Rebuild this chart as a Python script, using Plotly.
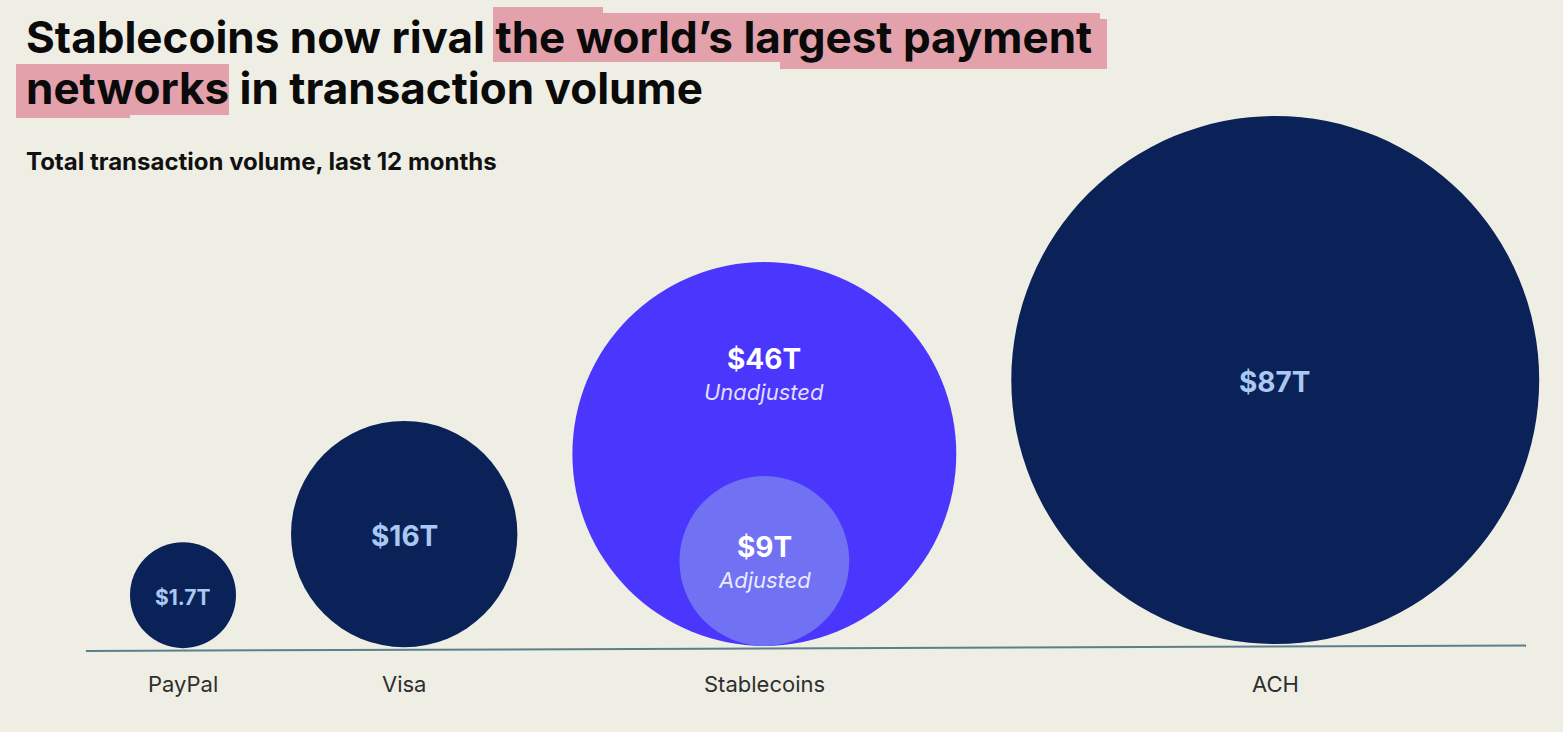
import numpy as np
import plotly.graph_objects as go

# ---- data ----
categories = ["PayPal", "Visa", "Stablecoins", "ACH"]
volumes_t = [1.7, 16, 46, 87]          # $ trillions, last 12 months
value_labels = ["$1.7T", "$16T", "$46T", "$87T"]
adjusted_stablecoin_t = 9
adjusted_label = "$9T"
title_line1_plain = "Stablecoins now rival "
title_line1_hl = "the world’s largest payment"
title_line2_hl = "networks"
title_line2_plain = " in transaction volume"
subtitle = "Total transaction volume, last 12 months"

# ---- layout constants ----
W, H = 1563, 732
BG = "#efeee4"
NAVY = "#0b2258"
PURPLE = "#4a36fd"
LIGHT_PURPLE = "#7171f4"
VAL_NAVY = "#a9c9f3"
FONT = "Inter"
K = 28.3            # px per sqrt($T)
R_MIN = 53          # minimum radius in px
GAP = 55            # gap between circles
LEFT = 130          # left edge of first circle
LINE_X = (86, 1526)
LINE_Y = (651, 645.5)


def base_y(x):
    return LINE_Y[0] + (LINE_Y[1] - LINE_Y[0]) * (x - LINE_X[0]) / (LINE_X[1] - LINE_X[0])


radii = [max(K * np.sqrt(v), R_MIN) for v in volumes_t]
centers = []
edge = LEFT
for r in radii:
    centers.append(edge + r)
    edge += 2 * r + GAP

fig = go.Figure()
shapes = []
annotations = []

# baseline
shapes.append(dict(type="line", xref="x", yref="y", x0=LINE_X[0], x1=LINE_X[1],
                   y0=LINE_Y[0], y1=LINE_Y[1], line=dict(color="#5b7f8e", width=2), layer="below"))

fills = [NAVY, NAVY, PURPLE, NAVY]
cys = []
for cat, cx, r, col in zip(categories, centers, radii, fills):
    bottom = base_y(cx) - 2.5
    cy = bottom - r
    cys.append(cy)
    shapes.append(dict(type="circle", xref="x", yref="y", x0=cx - r, x1=cx + r,
                       y0=cy - r, y1=cy + r, fillcolor=col, line=dict(width=0), layer="above"))

# adjusted stablecoin circle (inside stablecoins, sharing bottom)
si = categories.index("Stablecoins")
ra = K * np.sqrt(adjusted_stablecoin_t)
cxa = centers[si]
cya = base_y(cxa) - 2.5 - ra
shapes.append(dict(type="circle", xref="x", yref="y", x0=cxa - ra, x1=cxa + ra,
                   y0=cya - ra, y1=cya + ra, fillcolor=LIGHT_PURPLE, line=dict(width=0), layer="above"))

# category labels
for cat, cx in zip(categories, centers):
    annotations.append(dict(x=cx, y=684, xref="x", yref="y", text=cat, showarrow=False,
                            font=dict(family=FONT, size=22, color="#2e2e2e")))

# value labels
sizes = [21, 28, 28, 28]
for i, (cx, cy, lab) in enumerate(zip(centers, cys, value_labels)):
    if categories[i] == "Stablecoins":
        annotations.append(dict(x=cx, y=cy - 95, xref="x", yref="y", text="<b>%s</b>" % lab,
                                showarrow=False, font=dict(family=FONT, size=28, color="white")))
        annotations.append(dict(x=cx, y=cy - 62, xref="x", yref="y", text="<i>Unadjusted</i>",
                                showarrow=False, font=dict(family=FONT, size=22, color="#e2defd")))
    else:
        annotations.append(dict(x=cx, y=cy + 2, xref="x", yref="y", text="<b>%s</b>" % lab,
                                showarrow=False, font=dict(family=FONT, size=sizes[i], color=VAL_NAVY)))

annotations.append(dict(x=cxa, y=cya - 14, xref="x", yref="y", text="<b>%s</b>" % adjusted_label,
                        showarrow=False, font=dict(family=FONT, size=28, color="white")))
annotations.append(dict(x=cxa, y=cya + 19, xref="x", yref="y", text="<i>Adjusted</i>",
                        showarrow=False, font=dict(family=FONT, size=22, color="#eceafe")))

# title highlights (marker-like strokes)
HL = "#e3a1ab"
for (x0, x1, y0, y1) in [(493, 1100, 13, 62), (493, 603, 7, 62), (780, 1107, 19, 69),
                         (16, 229, 64, 115), (16, 130, 64, 118)]:
    shapes.append(dict(type="rect", xref="x", yref="y", x0=x0, x1=x1, y0=y0, y1=y1,
                       fillcolor=HL, line=dict(width=0), layer="below"))

annotations.append(dict(x=24, y=37, xref="x", yref="y", xanchor="left", yanchor="middle",
                        text="<b>%s%s</b>" % (title_line1_plain, title_line1_hl), showarrow=False,
                        font=dict(family=FONT, size=44, color="#0a0a0a")))
annotations.append(dict(x=24, y=88, xref="x", yref="y", xanchor="left", yanchor="middle",
                        text="<b>%s%s</b>" % (title_line2_hl, title_line2_plain), showarrow=False,
                        font=dict(family=FONT, size=44, color="#0a0a0a")))
annotations.append(dict(x=24, y=161, xref="x", yref="y", xanchor="left", yanchor="middle",
                        text="<b>%s</b>" % subtitle, showarrow=False,
                        font=dict(family=FONT, size=24, color="#111111")))

fig.update_layout(
    width=W, height=H, margin=dict(l=0, r=0, t=0, b=0),
    paper_bgcolor=BG, plot_bgcolor=BG, showlegend=False,
    xaxis=dict(range=[0, W], visible=False, fixedrange=True),
    yaxis=dict(range=[H, 0], visible=False, fixedrange=True),
    shapes=shapes, annotations=annotations,
)

fig.write_html("out.html")
